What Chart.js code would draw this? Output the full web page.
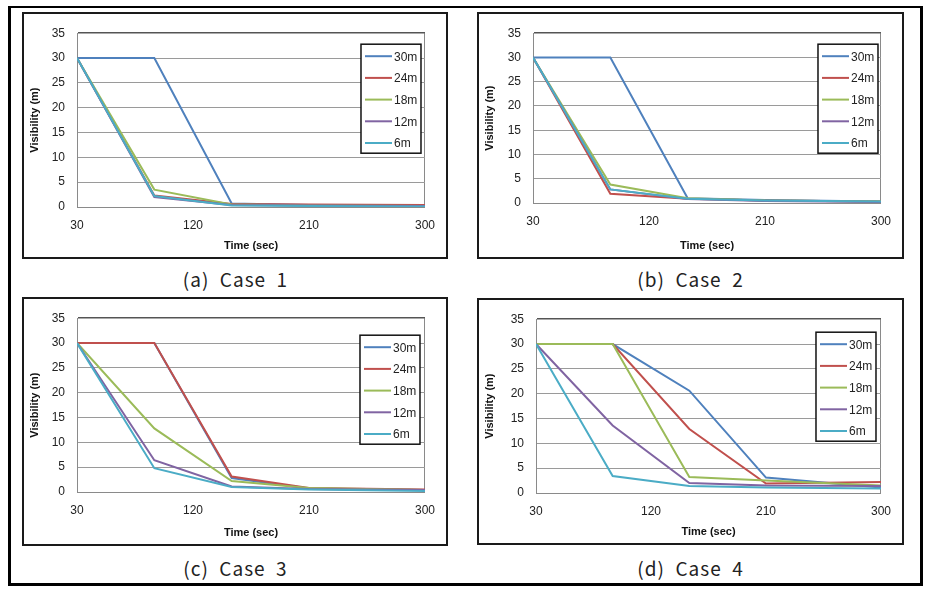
<!DOCTYPE html>
<html>
<head>
<meta charset="utf-8">
<script src="https://cdn.jsdelivr.net/npm/chart.js@4"></script>
<style>
  body { margin: 0; background: #fff; width: 927px; height: 591px; position: relative; overflow: hidden; }
  #frame { position: absolute; left: 8px; top: 6px; width: 915px; height: 580px; box-sizing: border-box;
           border: 3px solid #000; border-top-width: 2px; }
  .box { position: absolute; box-sizing: border-box; border: 2px solid #1a1a1a; background: #fff; }
  .cap { position: absolute; width: 427px; text-align: center; font: 19px "Noto Sans CJK KR", "DejaVu Sans", sans-serif;
         color: #222; letter-spacing: 1px; white-space: pre; }
</style>
</head>
<body>
<div id="frame"></div>

<script>
// Tiempos (s) de cada medida y etiquetas del eje x
const timeSec = [30, 90, 150, 210, 300];
const xTickLabels = [30, 120, 210, 300];
const depthLabels = ['30m', '24m', '18m', '12m', '6m'];
const depthColors = ['#4F81BD', '#C0504D', '#9BBB59', '#8064A2', '#4BACC6'];

// Visibilidad (m) por caso, en el orden de depthLabels
const case1Values = [
    [30, 30, 0.7, 0.4, 0.3],
    [30, 2.3, 0.6, 0.5, 0.4],
    [30, 3.5, 0.5, 0.3, 0.2],
    [30, 2.0, 0.4, 0.3, 0.2],
    [30, 2.2, 0.3, 0.2, 0.1]
];
const case2Values = [
    [30, 30, 1.0, 0.6, 0.3],
    [30, 1.9, 0.9, 0.5, 0.3],
    [30, 3.8, 1.0, 0.5, 0.3],
    [30, 2.8, 0.8, 0.4, 0.2],
    [30, 2.8, 0.9, 0.5, 0.3]
];
const case3Values = [
    [30, 30, 2.8, 0.7, 0.4],
    [30, 30, 3.1, 0.8, 0.5],
    [30, 12.8, 2.2, 0.8, 0.4],
    [30, 6.4, 1.1, 0.6, 0.4],
    [30, 4.8, 1.0, 0.5, 0.2]
];
const case4Values = [
    [30, 30, 20.6, 3.1, 1.1],
    [30, 30, 12.9, 1.9, 2.2],
    [30, 30, 3.2, 2.5, 1.5],
    [30, 13.6, 2.0, 1.5, 1.4],
    [30, 3.4, 1.4, 1.1, 0.9]
];

const panels = [
    { id: 'a', values: case1Values, caption: '(a)  Case  1', box: [22, 12, 426, 247], cap: 278, area: [53, 13, 18, 50], leg: [4, 11] },
    { id: 'b', values: case2Values, caption: '(b)  Case  2', box: [477, 12, 427, 247], cap: 278, area: [54, 12, 18, 54], leg: [3, 11] },
    { id: 'c', values: case3Values, caption: '(c)  Case  3', box: [22, 297, 426, 249], cap: 567, area: [53, 14, 18, 52], leg: [5, 17] },
    { id: 'd', values: case4Values, caption: '(d)  Case  4', box: [477, 298, 427, 247], cap: 567, area: [57, 13, 18, 50], leg: [5, 13] }
];

// leyenda con marco, dentro del área del gráfico
const boxLegend = {
    id: 'boxLegend',
    afterDraw(chart, args, opts) {
        const ctx = chart.ctx, a = chart.chartArea;
        const w = 60, h = 109;
        const x = a.right - opts.right - w, y = a.top + opts.top;
        ctx.save();
        ctx.fillStyle = '#fff';
        ctx.fillRect(x, y, w, h);
        ctx.strokeStyle = '#111';
        ctx.lineWidth = 1.5;
        ctx.strokeRect(x, y, w, h);
        ctx.font = '12px "Liberation Sans", Arial, sans-serif';
        ctx.textBaseline = 'middle';
        chart.data.datasets.forEach((ds, i) => {
            const ry = y + 12 + i * 21.7;
            ctx.strokeStyle = ds.borderColor;
            ctx.lineWidth = 2;
            ctx.beginPath();
            ctx.moveTo(x + 4, ry);
            ctx.lineTo(x + 31, ry);
            ctx.stroke();
            ctx.fillStyle = '#222';
            ctx.fillText(ds.label, x + 33, ry + 1);
        });
        ctx.restore();
    }
};

panels.forEach(p => {
    const [bx, by, bw, bh] = p.box;
    const box = document.createElement('div');
    box.className = 'box';
    Object.assign(box.style, { left: bx + 'px', top: by + 'px', width: bw + 'px', height: bh + 'px' });
    const canvas = document.createElement('canvas');
    canvas.width = bw - 4;
    canvas.height = bh - 4;
    box.appendChild(canvas);
    document.body.appendChild(box);

    const cap = document.createElement('div');
    cap.className = 'cap';
    cap.textContent = p.caption;
    Object.assign(cap.style, { left: bx + 'px', top: (p.cap - 13) + 'px' });
    document.body.appendChild(cap);

    const [padL, padT, padR, padB] = p.area;

    new Chart(canvas, {
        type: 'line',
        data: {
            datasets: depthLabels.map((label, i) => ({
                label: label,
                data: timeSec.map((t, k) => ({ x: t, y: p.values[i][k] })),
                borderColor: depthColors[i],
                backgroundColor: depthColors[i],
                borderWidth: 2,
                pointRadius: 0,
                tension: 0,
                order: depthLabels.length - i   // la última serie queda encima
            }))
        },
        options: {
            responsive: false,
            animation: false,
            layout: { padding: { top: padT, right: padR, left: 0, bottom: 0 } },
            plugins: {
                legend: { display: false },
                tooltip: { enabled: false },
                boxLegend: { right: p.leg[0], top: p.leg[1] }
            },
            scales: {
                x: {
                    type: 'linear',
                    min: 30,
                    max: 300,
                    afterBuildTicks: s => { s.ticks = xTickLabels.map(v => ({ value: v })); },
                    afterFit: s => { s.height = padB; },
                    grid: {
                        drawTicks: false,
                        color: c => c.tick && c.tick.value === 300 ? '#8a8a8a' : 'rgba(0,0,0,0)'
                    },
                    border: { color: '#8a8a8a', width: 1 },
                    ticks: { padding: 11, color: '#222', font: { size: 12, family: '"Liberation Sans", Arial' } },
                    title: {
                        display: true,
                        text: 'Time (sec)',
                        color: '#111',
                        font: { size: 11, weight: 'bold', family: '"Liberation Sans", Arial' }
                    }
                },
                y: {
                    min: 0,
                    max: 35,
                    ticks: { stepSize: 5, padding: 12, color: '#222', font: { size: 12, family: '"Liberation Sans", Arial' } },
                    afterFit: s => { s.width = padL; },
                    grid: {
                        drawTicks: false,
                        color: c => c.tick && c.tick.value === 35 ? '#555' : '#9a9a9a',
                        lineWidth: c => c.tick && c.tick.value === 35 ? 1.5 : 1
                    },
                    border: { color: '#8a8a8a', width: 1 },
                    title: {
                        display: true,
                        text: 'Visibility (m)',
                        color: '#111',
                        font: { size: 11, weight: 'bold', family: '"Liberation Sans", Arial' }
                    }
                }
            }
        },
        plugins: [boxLegend]
    });
});
</script>
</body>
</html>
